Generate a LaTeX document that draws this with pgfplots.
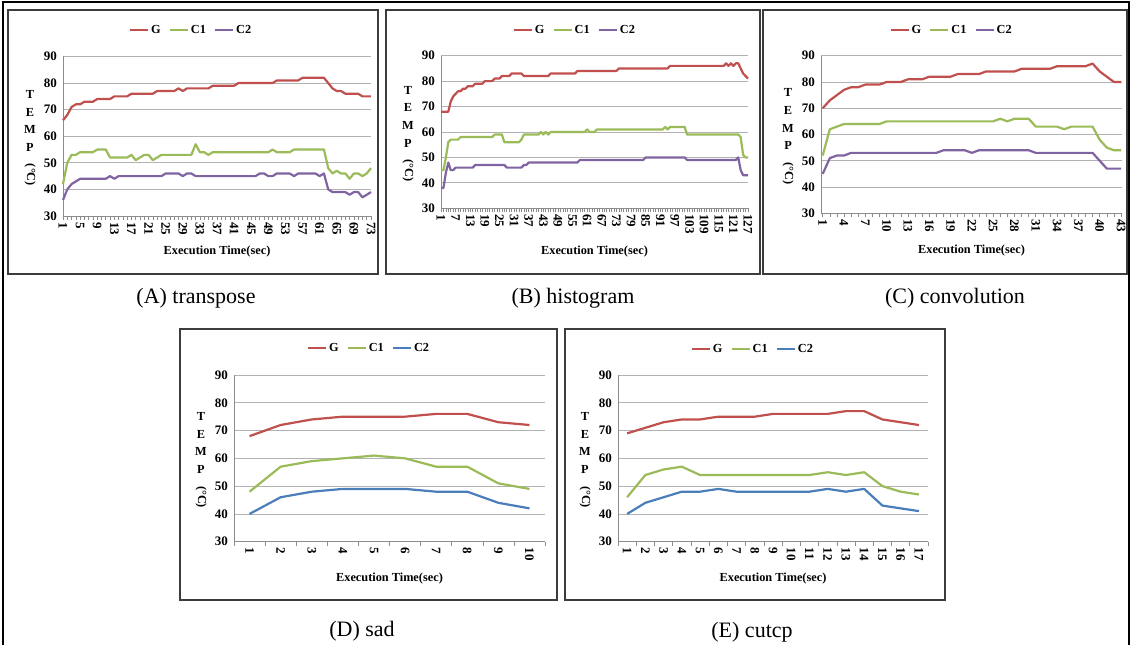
\documentclass[border=0pt]{standalone}
\usepackage{fontspec}
\setmainfont{Liberation Serif}
\usepackage{pgfplots}
\usepackage{pgfplotstable}
\pgfplotsset{compat=1.18}

\definecolor{Gred}{RGB}{192,80,77}
\definecolor{Cgreen}{RGB}{155,187,89}
\definecolor{Cpurple}{RGB}{128,100,162}
\definecolor{Cblue}{RGB}{74,126,187}
\definecolor{Frame}{RGB}{60,60,60}

\newcommand\smallbf{\bfseries\fontsize{12.3}{17.6}\selectfont}
\newcommand\tickbf{\bfseries\fontsize{13}{15}\selectfont}
\newcommand\capfont{\fontsize{22}{24}\selectfont}

% (A) transpose
\pgfplotstableread{
i G C1 C2
1 66 42 36
2 68 50 40
3 71 53 42
4 72 53 43
5 72 54 44
6 73 54 44
7 73 54 44
8 73 54 44
9 74 55 44
10 74 55 44
11 74 55 44
12 74 52 45
13 75 52 44
14 75 52 45
15 75 52 45
16 75 52 45
17 76 53 45
18 76 51 45
19 76 52 45
20 76 53 45
21 76 53 45
22 76 51 45
23 77 52 45
24 77 53 45
25 77 53 46
26 77 53 46
27 77 53 46
28 78 53 46
29 77 53 45
30 78 53 46
31 78 53 46
32 78 57 45
33 78 54 45
34 78 54 45
35 78 53 45
36 79 54 45
37 79 54 45
38 79 54 45
39 79 54 45
40 79 54 45
41 79 54 45
42 80 54 45
43 80 54 45
44 80 54 45
45 80 54 45
46 80 54 45
47 80 54 46
48 80 54 46
49 80 54 45
50 80 55 45
51 81 54 46
52 81 54 46
53 81 54 46
54 81 54 46
55 81 55 45
56 81 55 46
57 82 55 46
58 82 55 46
59 82 55 46
60 82 55 46
61 82 55 45
62 82 55 46
63 80 48 40
64 78 46 39
65 77 47 39
66 77 46 39
67 76 46 39
68 76 44 38
69 76 46 39
70 76 46 39
71 75 45 37
72 75 46 38
73 75 48 39
}\tabA

% (B) histogram
\pgfplotstableread{
i G C1 C2
1 68 45 38
2 68 45 38
3 68 50 44
4 68 56 48
5 72 57 45
6 74 57 45
7 75 57 46
8 76 57 46
9 76 58 46
10 77 58 46
11 77 58 46
12 78 58 46
13 78 58 46
14 78 58 46
15 79 58 47
16 79 58 47
17 79 58 47
18 79 58 47
19 80 58 47
20 80 58 47
21 80 58 47
22 80 58 47
23 81 59 47
24 81 59 47
25 81 59 47
26 82 59 47
27 82 56 47
28 82 56 46
29 82 56 46
30 83 56 46
31 83 56 46
32 83 56 46
33 83 56 46
34 83 57 46
35 82 59 47
36 82 59 47
37 82 59 48
38 82 59 48
39 82 59 48
40 82 59 48
41 82 59 48
42 82 60 48
43 82 59 48
44 82 60 48
45 82 59 48
46 83 60 48
47 83 60 48
48 83 60 48
49 83 60 48
50 83 60 48
51 83 60 48
52 83 60 48
53 83 60 48
54 83 60 48
55 83 60 48
56 83 60 48
57 84 60 48
58 84 60 49
59 84 60 49
60 84 60 49
61 84 61 49
62 84 60 49
63 84 60 49
64 84 60 49
65 84 61 49
66 84 61 49
67 84 61 49
68 84 61 49
69 84 61 49
70 84 61 49
71 84 61 49
72 84 61 49
73 84 61 49
74 85 61 49
75 85 61 49
76 85 61 49
77 85 61 49
78 85 61 49
79 85 61 49
80 85 61 49
81 85 61 49
82 85 61 49
83 85 61 49
84 85 61 49
85 85 61 50
86 85 61 50
87 85 61 50
88 85 61 50
89 85 61 50
90 85 61 50
91 85 61 50
92 85 61 50
93 85 62 50
94 85 61 50
95 86 62 50
96 86 62 50
97 86 62 50
98 86 62 50
99 86 62 50
100 86 62 50
101 86 62 50
102 86 59 49
103 86 59 49
104 86 59 49
105 86 59 49
106 86 59 49
107 86 59 49
108 86 59 49
109 86 59 49
110 86 59 49
111 86 59 49
112 86 59 49
113 86 59 49
114 86 59 49
115 86 59 49
116 86 59 49
117 86 59 49
118 87 59 49
119 86 59 49
120 87 59 49
121 86 59 49
122 87 59 49
123 87 59 50
124 85 58 45
125 83 51 43
126 82 50 43
127 81 50 43
}\tabB

% (C) convolution
\pgfplotstableread{
i G C1 C2
1 70 52 45
2 73 62 51
3 75 63 52
4 77 64 52
5 78 64 53
6 78 64 53
7 79 64 53
8 79 64 53
9 79 64 53
10 80 65 53
11 80 65 53
12 80 65 53
13 81 65 53
14 81 65 53
15 81 65 53
16 82 65 53
17 82 65 53
18 82 65 54
19 82 65 54
20 83 65 54
21 83 65 54
22 83 65 53
23 83 65 54
24 84 65 54
25 84 65 54
26 84 66 54
27 84 65 54
28 84 66 54
29 85 66 54
30 85 66 54
31 85 63 53
32 85 63 53
33 85 63 53
34 86 63 53
35 86 62 53
36 86 63 53
37 86 63 53
38 86 63 53
39 87 63 53
40 84 58 50
41 82 55 47
42 80 54 47
43 80 54 47
}\tabC

% (D) sad
\pgfplotstableread{
i G C1 C2
1 68 48 40
2 72 57 46
3 74 59 48
4 75 60 49
5 75 61 49
6 75 60 49
7 76 57 48
8 76 57 48
9 73 51 44
10 72 49 42
}\tabD

% (E) cutcp
\pgfplotstableread{
i G C1 C2
1 69 46 40
2 71 54 44
3 73 56 46
4 74 57 48
5 74 54 48
6 75 54 49
7 75 54 48
8 75 54 48
9 76 54 48
10 76 54 48
11 76 54 48
12 76 55 49
13 77 54 48
14 77 55 49
15 74 50 43
16 73 48 42
17 72 47 41
}\tabE

\pgfplotsset{
  panel/.style={
    scale only axis, clip=false,
    ymin=30, ymax=90, ytick={30,40,...,90},
    axis x line*=bottom, axis y line*=left,
    axis line style={black!45, line width=0.8pt},
    ymajorgrids, major grid style={black!30, line width=0.8pt},
    tick align=outside, major tick length=4pt, minor tick length=4pt,
    every major y tick/.append style={draw=none},
    every tick/.append style={black!45, line width=0.6pt},
    tick label style={font=\tickbf},
    /pgf/number format/assume math mode=true,
    xticklabel style={rotate=-90, anchor=west, inner sep=2pt},
    yticklabel style={inner sep=2pt},
    xlabel={Execution Time(sec)},
    ylabel={T\\E\\M\\P\\[-5pt]\rotatebox{-90}{(°C)}},
    every axis y label/.style={at={(axis description cs:0,0.5)}, anchor=center,
      xshift=-33pt, yshift=-2pt, align=center, font=\smallbf},
    legend columns=3,
    legend style={draw=none, fill=none, anchor=center, font=\smallbf, inner sep=0pt,
      /tikz/every even column/.append style={column sep=6pt}},
    legend image code/.code={\draw[##1, line width=2.2pt] (0pt,0pt) -- (18pt,0pt);},
    every axis plot/.append style={line width=2.2pt, line join=round},
  },
  xlab/.style={every axis x label/.style={at={(axis description cs:0.5,0)},
      anchor=center, yshift=-#1, font=\smallbf}},
}

\begin{document}
\begin{tikzpicture}[x=1pt,y=1pt]
\useasboundingbox (0,0) rectangle (1130,645);
\draw[line width=2pt, black] (2.5,642.5) rectangle (1128.5,-5);
\draw[line width=1.5pt, Frame] (8,635) rectangle (378,371);
\draw[line width=1.5pt, Frame] (386,635) rectangle (760,371);
\draw[line width=1.5pt, Frame] (763,635) rectangle (1127,371);
\draw[line width=1.5pt, Frame] (180,316) rectangle (557,45);
\draw[line width=1.5pt, Frame] (565,316) rectangle (945,45);

\begin{axis}[panel, xlab=36pt, at={(63pt,429pt)}, anchor=south west,
    width=308pt, height=159.5pt, xmin=1, xmax=73,
    xtick={1,5,...,73}, minor xtick={1,...,73},
    legend style={at={(0.416,1.164)}}]
\addplot[Gred] table[x=i, y=G] {\tabA};
\addplot[Cgreen] table[x=i, y=C1] {\tabA};
\addplot[Cpurple] table[x=i, y=C2] {\tabA};
\legend{G,C1,C2}
\end{axis}

\begin{axis}[panel, xlab=43pt, at={(441pt,436.7pt)}, anchor=south west,
    width=307pt, height=152.6pt, xmin=1, xmax=127,
    xtick={1,7,...,127}, minor xtick={1,...,127},
    legend style={at={(0.436,1.168)}}]
\addplot[Gred] table[x=i, y=G] {\tabB};
\addplot[Cgreen] table[x=i, y=C1] {\tabB};
\addplot[Cpurple] table[x=i, y=C2] {\tabB};
\legend{G,C1,C2}
\end{axis}

\begin{axis}[panel, xlab=37pt, at={(821pt,431.7pt)}, anchor=south west,
    width=301pt, height=157.6pt, xmin=0.76, xmax=43.14,
    xtick={1,4,...,43}, minor xtick={1,...,43},
    legend style={at={(0.434,1.163)}}]
\addplot[Gred] table[x=i, y=G] {\tabC};
\addplot[Cgreen] table[x=i, y=C1] {\tabC};
\addplot[Cpurple] table[x=i, y=C2] {\tabC};
\legend{G,C1,C2}
\end{axis}

\begin{axis}[panel, xlab=36.6pt, at={(234pt,103.3pt)}, anchor=south west,
    width=311pt, height=166.7pt, xmin=0.5, xmax=10.5,
    xtick={1,...,10}, minor xtick={0.5,1.5,...,10.5},
    every major x tick/.append style={draw=none},
    legend style={at={(0.434,1.16)}}]
\addplot[Gred] table[x=i, y=G] {\tabD};
\addplot[Cgreen] table[x=i, y=C1] {\tabD};
\addplot[Cblue] table[x=i, y=C2] {\tabD};
\legend{G,C1,C2}
\end{axis}

\begin{axis}[panel, xlab=36.6pt, at={(618pt,103.3pt)}, anchor=south west,
    width=310pt, height=166.7pt, xmin=0.5, xmax=17.5,
    xtick={1,...,17}, minor xtick={0.5,1.5,...,17.5},
    every major x tick/.append style={draw=none},
    legend style={at={(0.435,1.154)}}]
\addplot[Gred] table[x=i, y=G] {\tabE};
\addplot[Cgreen] table[x=i, y=C1] {\tabE};
\addplot[Cblue] table[x=i, y=C2] {\tabE};
\legend{G,C1,C2}
\end{axis}

\node[font=\capfont] at (196,347) {(A) transpose};
\node[font=\capfont] at (573,347) {(B) histogram};
\node[font=\capfont] at (955,347) {(C) convolution};
\node[font=\capfont] at (362,13.3) {(D) sad};
\node[font=\capfont] at (752,13) {(E) cutcp};
\end{tikzpicture}
\end{document}
